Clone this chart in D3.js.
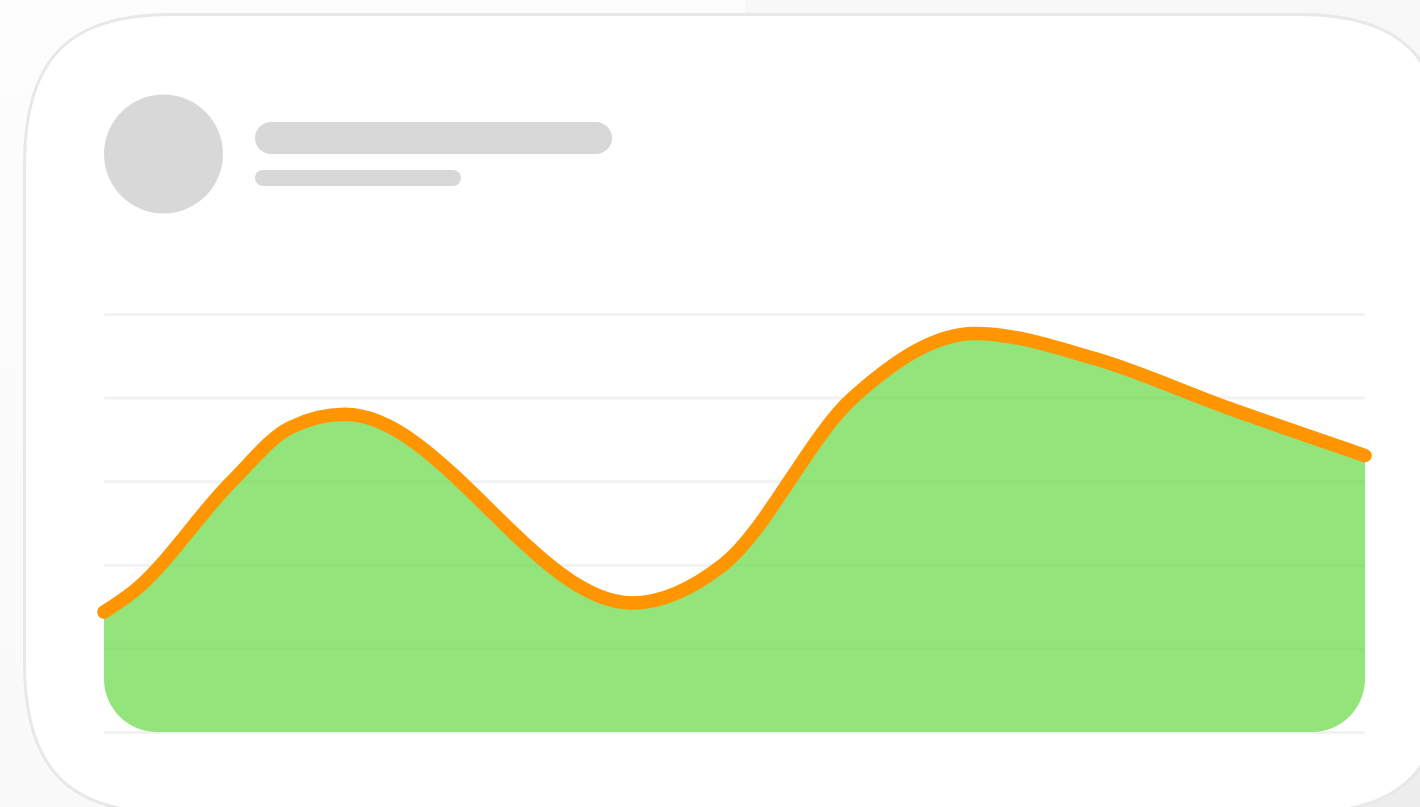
<!DOCTYPE html>
<html>
<head>
<meta charset="utf-8">
<script src="https://cdn.jsdelivr.net/npm/d3@7"></script>
<style>
  html, body { margin: 0; padding: 0; background: #fff; overflow: hidden; }
  svg { display: block; }
</style>
</head>
<body>
<div id="chart"></div>
<script>
// values, x runs 0-100 and y runs 0-5
const xValues = [0, 2.3, 10.15, 14.75, 19.11, 41.87, 49.09, 59.4, 69.07, 78.49, 88.9, 100]
const yValues = [1.435, 1.675, 3.0, 3.64, 3.8, 1.543, 2.0, 4.0, 4.767, 4.47, 3.889, 3.307]
const gridTicks = [0, 1, 2, 3, 4, 5]

const width = 1420
const height = 807
const points = xValues.map((x, i) => ({ x, y: yValues[i] }))

const svg = d3.select('#chart')
  .append('svg')
  .attr('width', width)
  .attr('height', height)

const defs = svg.append('defs') // For gradients

const bgLeft = defs.append('linearGradient')
  .attr('id', 'bg-left')
  .attr('x1', 0).attr('y1', 0).attr('x2', 0).attr('y2', 1)
bgLeft.append('stop').attr('offset', '0%').attr('stop-color', '#fdfdfd')
bgLeft.append('stop').attr('offset', '100%').attr('stop-color', '#f9f9f9')

const bgRight = defs.append('linearGradient')
  .attr('id', 'bg-right')
  .attr('x1', 0).attr('y1', 0).attr('x2', 0).attr('y2', 1)
bgRight.append('stop').attr('offset', '0%').attr('stop-color', '#f8f8f8')
bgRight.append('stop').attr('offset', '100%').attr('stop-color', '#ededed')

// Backdrop, with the hard seam at the top
svg.append('rect').attr('width', 745).attr('height', height).attr('fill', 'url(#bg-left)')
svg.append('rect').attr('x', 745).attr('width', width - 745).attr('height', height).attr('fill', 'url(#bg-right)')

// Card runs off the right and bottom of the window, corners are squircle-ish
function cardPath(l, t, r, b) {
  const p = d3.path()
  p.moveTo(l + 146, t)
  p.lineTo(r - 146, t)
  p.bezierCurveTo(r - 44, t, r, t + 44, r, t + 150)
  p.lineTo(r, b - 150)
  p.bezierCurveTo(r, b - 44, r - 44, b, r - 146, b)
  p.lineTo(l + 146, b)
  p.bezierCurveTo(l + 44, b, l, b - 44, l, b - 150)
  p.lineTo(l, t + 150)
  p.bezierCurveTo(l, t + 44, l + 44, t, l + 146, t)
  p.closePath()
  return p.toString()
}

svg.append('path')
  .attr('d', cardPath(24.5, 14.5, 1446, 813))
  .attr('fill', '#fff')
  .attr('stroke', '#e8e8e8')
  .attr('stroke-width', 3)

// Placeholder header
svg.append('circle').attr('cx', 163.5).attr('cy', 154).attr('r', 59.5).attr('fill', '#d8d8d8')
svg.append('rect').attr('x', 255).attr('y', 122).attr('width', 357).attr('height', 32).attr('rx', 16).attr('fill', '#d8d8d8')
svg.append('rect').attr('x', 255).attr('y', 170).attr('width', 206).attr('height', 16).attr('rx', 8).attr('fill', '#d8d8d8')

const x = d3.scaleLinear().domain([0, 100]).range([104, 1365])
const y = d3.scaleLinear().domain([0, 5]).range([732, 314])
const plotWidth = x(100) - x(0)

// Grid lines
const grid = svg.append('g')
  .attr('transform', `translate(${x(0)},0)`)
  .call(d3.axisLeft(y).tickValues(gridTicks).tickSize(-plotWidth).tickFormat(''))
grid.select('.domain').remove()
grid.selectAll('line')
  .attr('x1', 1.5)
  .attr('x2', plotWidth - 1.5)
  .attr('stroke', '#f2f2f2')
  .attr('stroke-width', 3)
  .attr('stroke-linecap', 'round')

defs.append('clipPath')
  .attr('id', 'area-clip')
  .append('rect')
  .attr('x', x(0))
  .attr('y', y(5))
  .attr('width', plotWidth)
  .attr('height', y(0) - y(5))
  .attr('rx', 53)

const area = d3.area()
  .curve(d3.curveMonotoneX)
  .x((d) => x(d.x))
  .y0(y(0))
  .y1((d) => y(d.y))

const line = d3.line()
  .curve(d3.curveMonotoneX)
  .x((d) => x(d.x))
  .y((d) => y(d.y))

svg.append('path')
  .datum(points)
  .attr('d', area)
  .attr('clip-path', 'url(#area-clip)')
  .attr('fill', '#66d944')
  .attr('fill-opacity', 0.7)

svg.append('path')
  .datum(points)
  .attr('d', line)
  .attr('fill', 'none')
  .attr('stroke', '#ff9500')
  .attr('stroke-width', 13.5)
  .attr('stroke-linecap', 'round')
  .attr('stroke-linejoin', 'round')
</script>
</body>
</html>
